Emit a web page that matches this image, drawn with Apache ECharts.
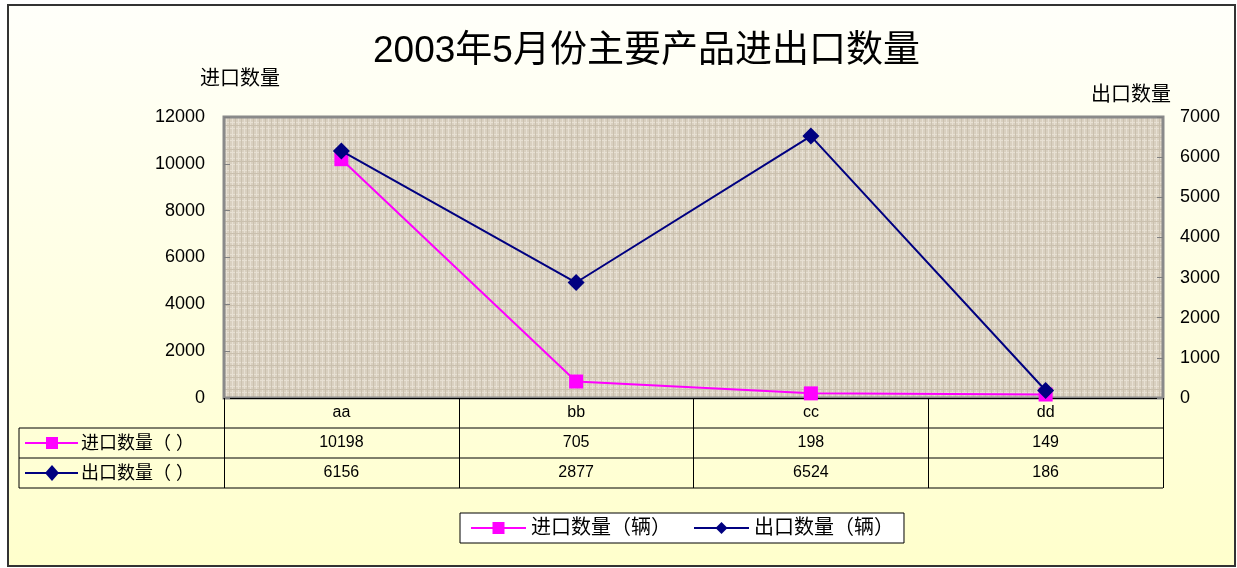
<!DOCTYPE html>
<html>
<head>
<meta charset="utf-8">
<script src="https://cdn.jsdelivr.net/npm/echarts@6/dist/echarts.min.js"></script>
<style>
  html, body { margin: 0; padding: 0; background: #fff; }
  #main { width: 1237px; height: 568px; }
</style>
</head>
<body>
<div id="main"></div>
<script>
// 数据
var categories = ['aa', 'bb', 'cc', 'dd'];
var importData = [10198, 705, 198, 149];
var exportData = [6156, 2877, 6524, 186];
var importName = '进口数量（辆）';
var exportName = '出口数量（辆）';
var leftTicks = { min: 0, max: 12000, interval: 2000 };
var rightTicks = { min: 0, max: 7000, interval: 1000 };

var FONT = '"Liberation Sans", "Noto Sans CJK SC", sans-serif';
// 绘图区位置
var gridL = 224, gridR = 1163, gridT = 117, gridB = 398;
var rowH = 30;

// 绘图区的纹理
function makeTexture() {
  var c = document.createElement('canvas');
  c.width = 12; c.height = 12;
  var g = c.getContext('2d');
  g.fillStyle = '#d9d0c0';
  g.fillRect(0, 0, 12, 12);
  g.fillStyle = '#e7e0d3';
  g.fillRect(0, 2, 12, 1);
  g.fillRect(0, 8, 12, 1);
  g.fillRect(4, 0, 1, 12);
  g.fillRect(10, 0, 1, 12);
  g.fillStyle = '#cac0ae';
  g.fillRect(0, 5, 12, 1);
  g.fillRect(1, 0, 1, 12);
  g.fillRect(7, 0, 1, 12);
  return c;
}

var chart = echarts.init(document.getElementById('main'));

// 数据表格的横线和左侧图例
var tableGraphics = [];
[1, 2, 3].forEach(function (k) {
  tableGraphics.push({
    type: 'line', z: 10,
    shape: { x1: 19, y1: gridB + k * rowH, x2: gridR, y2: gridB + k * rowH },
    style: { stroke: '#000', lineWidth: 1 }
  });
});
tableGraphics.push({
  type: 'line', z: 10,
  shape: { x1: 19, y1: gridB + rowH, x2: 19, y2: gridB + 3 * rowH },
  style: { stroke: '#000', lineWidth: 1 }
});
tableGraphics.push(
  { type: 'line', z: 10, shape: { x1: 25, y1: 443, x2: 78, y2: 443 }, style: { stroke: '#ff00ff', lineWidth: 2 } },
  { type: 'rect', z: 11, shape: { x: 46, y: 437, width: 12, height: 12 }, style: { fill: '#ff00ff' } },
  { type: 'text', z: 10, style: { x: 81, y: 444, text: '进口数量（ ）', font: '18px ' + FONT, fill: '#000', textVerticalAlign: 'middle' } },
  { type: 'line', z: 10, shape: { x1: 25, y1: 473, x2: 78, y2: 473 }, style: { stroke: '#000080', lineWidth: 2 } },
  { type: 'polygon', z: 11, shape: { points: [[52, 465], [59, 473], [52, 481], [45, 473]] }, style: { fill: '#000080' } },
  { type: 'text', z: 10, style: { x: 81, y: 474, text: '出口数量（ ）', font: '18px ' + FONT, fill: '#000', textVerticalAlign: 'middle' } }
);

chart.setOption({
  backgroundColor: '#fff',
  textStyle: { fontFamily: FONT },
  title: {
    text: '2003年5月份主要产品进出口数量',
    left: 368,
    top: 28,
    textStyle: { fontSize: 37, fontWeight: 'normal', color: '#000', fontFamily: FONT }
  },
  graphic: [
    {
      type: 'rect', z: -10, silent: true,
      shape: { x: 8, y: 5, width: 1227, height: 561 },
      style: {
        stroke: '#333', lineWidth: 2,
        fill: new echarts.graphic.LinearGradient(0, 0, 0, 1, [
          { offset: 0, color: '#fffffa' },
          { offset: 1, color: '#ffffcc' }
        ])
      }
    }
  ].concat(tableGraphics),
  legend: {
    left: 460,
    top: 513,
    width: 449,
    padding: [5, 10, 5, 10],
    itemWidth: 55,
    itemHeight: 15,
    itemGap: 22,
    backgroundColor: '#fff',
    borderColor: '#000',
    borderWidth: 1,
    borderRadius: 0,
    textStyle: { fontSize: 20, color: '#000', fontFamily: FONT },
    data: [importName, exportName]
  },
  grid: {
    left: gridL,
    right: 1237 - gridR,
    top: gridT,
    bottom: 568 - gridB,
    show: true,
    backgroundColor: { image: makeTexture(), repeat: 'repeat' },
    borderColor: '#8a8a8a',
    borderWidth: 3
  },
  xAxis: {
    type: 'category',
    data: categories,
    boundaryGap: true,
    axisLine: { show: true, lineStyle: { color: '#000', width: 1 } },
    axisTick: { show: true, length: 3 * rowH, inside: false, lineStyle: { color: '#000', width: 1 } },
    axisLabel: {
      margin: 0,
      fontSize: 16,
      lineHeight: rowH,
      color: '#000',
      formatter: function (v, i) {
        return v + '\n' + importData[i] + '\n' + exportData[i];
      }
    },
    splitLine: { show: false }
  },
  yAxis: [
    {
      type: 'value',
      min: leftTicks.min, max: leftTicks.max, interval: leftTicks.interval,
      position: 'left',
      name: '进口数量',
      nameLocation: 'end',
      nameGap: 28,
      nameTextStyle: { fontSize: 20, color: '#000', padding: [0, 0, 0, 32] },
      axisLine: { show: false },
      axisTick: { show: true, inside: true, length: 6, lineStyle: { color: '#808080' } },
      axisLabel: { fontSize: 18, color: '#000', margin: 19, formatter: function (v) { return String(v); } },
      splitLine: { show: false }
    },
    {
      type: 'value',
      min: rightTicks.min, max: rightTicks.max, interval: rightTicks.interval,
      position: 'right',
      name: '出口数量',
      nameLocation: 'end',
      nameGap: 12,
      nameTextStyle: { fontSize: 20, color: '#000', padding: [0, 64, 0, 0] },
      axisLine: { show: false },
      axisTick: { show: true, inside: true, length: 6, lineStyle: { color: '#808080' } },
      axisLabel: { fontSize: 18, color: '#000', margin: 17, formatter: function (v) { return String(v); } },
      splitLine: { show: false }
    }
  ],
  series: [
    {
      name: importName,
      type: 'line',
      yAxisIndex: 0,
      data: importData,
      symbol: 'rect',
      symbolSize: 14,
      itemStyle: { color: '#ff00ff' },
      lineStyle: { color: '#ff00ff', width: 2 },
      z: 3
    },
    {
      name: exportName,
      type: 'line',
      yAxisIndex: 1,
      data: exportData,
      symbol: 'diamond',
      symbolSize: 17,
      itemStyle: { color: '#000080' },
      lineStyle: { color: '#000080', width: 2 },
      z: 4
    }
  ]
});
</script>
</body>
</html>
